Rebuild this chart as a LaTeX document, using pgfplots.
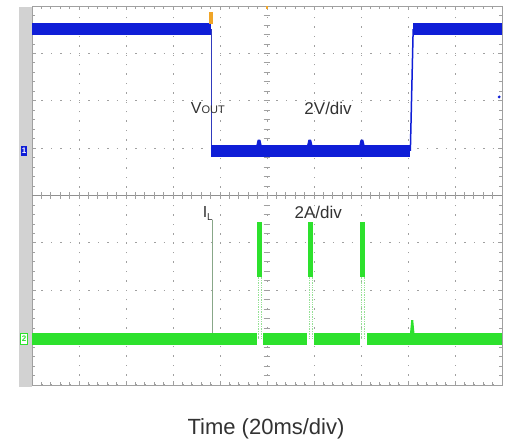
\documentclass[border=0pt]{standalone}
\usepackage{fontspec}
\setmainfont{Liberation Sans}
\usepackage{pgfplots}
\pgfplotsset{compat=1.18}
\definecolor{cblue}{RGB}{15,30,215}
\definecolor{cgreen}{RGB}{45,225,45}
\definecolor{lgreen}{RGB}{150,225,150}
\definecolor{gridc}{RGB}{160,160,160}
\definecolor{txt}{RGB}{50,50,50}
\definecolor{trig}{RGB}{240,165,40}
\begin{document}
\begin{tikzpicture}[x=1pt,y=1pt]
\useasboundingbox (0,0) rectangle (509,447);
\fill[gray!35] (19,60) rectangle (32,440);
\begin{axis}[at={(32pt,62pt)}, anchor=south west, width=470pt, height=379pt, scale only axis,
  xmin=0, xmax=10, ymin=0, ymax=8,
  xtick={0,...,10}, ytick={0,...,8}, minor x tick num=4, minor y tick num=4,
  xticklabels={}, yticklabels={},
  grid=major, major grid style={gridc, line width=1pt, dash pattern=on 1.4pt off 8pt},
  axis line style={gridc, line width=0.9pt}, tick style={gridc, line width=0.8pt},
  major tick length=4pt, minor tick length=3pt, clip=false]
% center lines with ticks
\draw[gridc!90!black, line width=0.9pt] (axis cs:0,4) -- (axis cs:10,4);
\pgfplotsinvokeforeach{0.2,0.4,...,9.8}{\draw[gridc, line width=0.8pt] (axis cs:#1,3.93) -- (axis cs:#1,4.07);}
\pgfplotsinvokeforeach{0.2,0.4,...,7.8}{\draw[gridc, line width=0.8pt] (axis cs:4.93,#1) -- (axis cs:5.07,#1);}
% Blue trace (Vout)
\addplot[cblue, line width=11.5pt, line cap=butt] coordinates {(0,7.51) (3.81,7.51)};
\addplot[cblue!70!gray, line width=1pt] coordinates {(3.81,7.51) (3.81,4.94)};
\addplot[cblue, line width=11.5pt, line cap=butt] coordinates {(3.81,4.94) (8.05,4.94)};
\addplot[cblue, fill=cblue, line width=1pt, line join=round] coordinates {(4.77,5.0) (4.81,5.17) (4.85,5.17) (4.89,5.0)};
\addplot[cblue, fill=cblue, line width=1pt, line join=round] coordinates {(5.85,5.0) (5.89,5.17) (5.93,5.17) (5.97,5.0)};
\addplot[cblue, fill=cblue, line width=1pt, line join=round] coordinates {(6.96,5.0) (7.0,5.17) (7.04,5.17) (7.08,5.0)};
\addplot[cblue, line width=1.5pt] coordinates {(8.05,4.94) (8.11,7.51)};
\addplot[cblue, line width=11.5pt, line cap=butt] coordinates {(8.11,7.51) (10,7.51)};
% Green trace (IL)
\addplot[gray!60!lgreen, line width=0.7pt] coordinates {(3.83,0.98) (3.83,3.48)};
\addplot[cgreen, line width=12pt, line cap=butt] coordinates {(0,0.98) (4.78,0.98)};
\addplot[cgreen, line width=12pt, line cap=butt] coordinates {(4.92,0.98) (5.86,0.98)};
\addplot[cgreen, line width=12pt, line cap=butt] coordinates {(6.01,0.98) (6.98,0.98)};
\addplot[cgreen, line width=12pt, line cap=butt] coordinates {(7.13,0.98) (10,0.98)};
\addplot[cgreen, line width=2pt] coordinates {(8.06,1.05) (8.09,1.37) (8.12,1.05)};
\addplot[cgreen, line width=5pt, line cap=butt] coordinates {(4.85,2.28) (4.85,3.44)};
\addplot[cgreen, line width=5pt, line cap=butt] coordinates {(5.93,2.28) (5.93,3.44)};
\addplot[cgreen, line width=5pt, line cap=butt] coordinates {(7.04,2.28) (7.04,3.44)};
\addplot[lgreen, line width=0.7pt, densely dotted] coordinates {(4.82,0.98) (4.82,2.28)};
\addplot[lgreen, line width=0.7pt, densely dotted] coordinates {(4.88,0.98) (4.88,2.28)};
\addplot[lgreen, line width=0.7pt, densely dotted] coordinates {(5.90,0.98) (5.90,2.28)};
\addplot[lgreen, line width=0.7pt, densely dotted] coordinates {(5.96,0.98) (5.96,2.28)};
\addplot[lgreen, line width=0.7pt, densely dotted] coordinates {(7.01,0.98) (7.01,2.28)};
\addplot[lgreen, line width=0.7pt, densely dotted] coordinates {(7.07,0.98) (7.07,2.28)};
% markers
\fill[trig] (axis cs:3.77,7.62) rectangle (axis cs:3.86,7.88);
\fill[trig] (axis cs:4.97,7.93) rectangle (axis cs:5.03,8.0);
\fill[cblue] (axis cs:9.94,6.08) circle[radius=1.6pt];
\node[fill=cblue, text=white, font=\fontsize{8}{8}\selectfont\bfseries, inner sep=1.2pt, minimum height=10pt] at (axis cs:-0.17,4.94) {1};
\node[draw=cgreen, fill=white, text=cgreen, font=\fontsize{8}{8}\selectfont\bfseries, inner sep=1pt, minimum height=11pt, line width=1pt] at (axis cs:-0.17,0.98) {2};
% labels
\node[text=txt, font=\fontsize{16}{16}\selectfont] at (axis cs:3.74,5.84) {V{\fontsize{11}{11}\selectfont OUT}};
\node[text=txt, font=\fontsize{17}{17}\selectfont] at (axis cs:6.30,5.84) {2V/div};
\node[text=txt, font=\fontsize{16}{16}\selectfont] at (axis cs:3.74,3.62) {I\raisebox{-0.35ex}{\fontsize{10}{10}\selectfont L}};
\node[text=txt, font=\fontsize{17}{17}\selectfont] at (axis cs:6.09,3.65) {2A/div};
\end{axis}
\node[text=txt, font=\fontsize{22}{22}\selectfont] at (266,18) {Time (20ms/div)};
\end{tikzpicture}
\end{document}
